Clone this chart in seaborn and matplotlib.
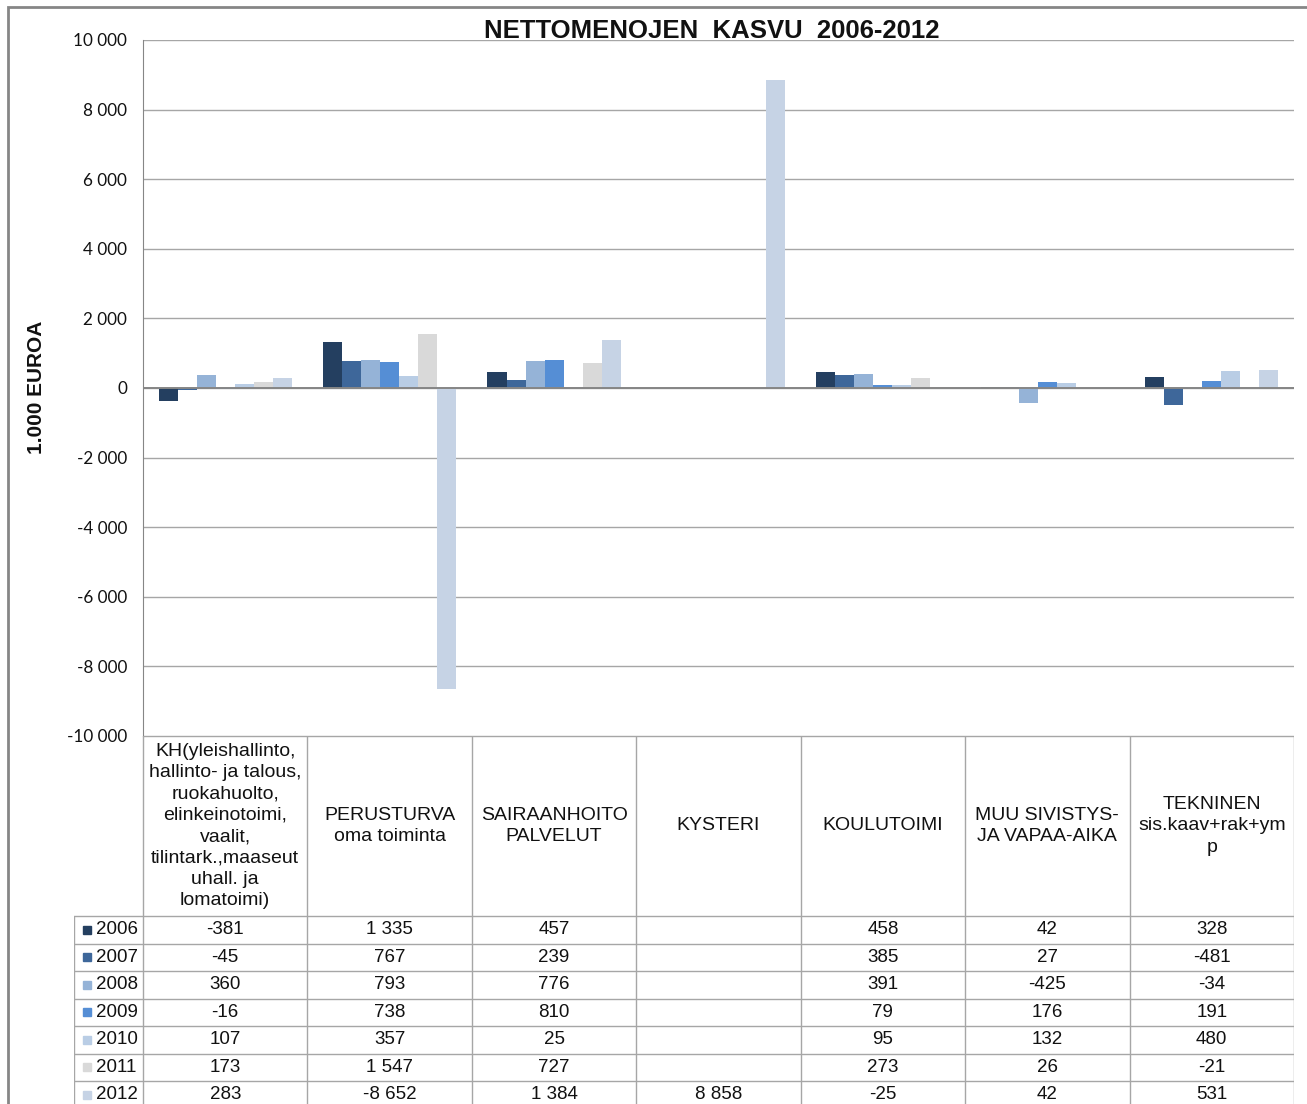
import pandas as pd
import matplotlib.pyplot as plt
import seaborn as sns
from matplotlib.patches import Rectangle
from matplotlib.ticker import FuncFormatter

# --- Data (1.000 euroa) ---
categories = [
    "KH(yleishallinto,\nhallinto- ja talous,\nruokahuolto,\nelinkeinotoimi,\nvaalit,\ntilintark.,maaseut\nuhall. ja\nlomatoimi)",
    "PERUSTURVA\noma toiminta",
    "SAIRAANHOITO\nPALVELUT",
    "KYSTERI",
    "KOULUTOIMI",
    "MUU SIVISTYS-\nJA VAPAA-AIKA",
    "TEKNINEN\nsis.kaav+rak+ym\np",
]
years = ["2006", "2007", "2008", "2009", "2010", "2011", "2012"]
v2006 = [-381, 1335, 457, None, 458, 42, 328]
v2007 = [-45, 767, 239, None, 385, 27, -481]
v2008 = [360, 793, 776, None, 391, -425, -34]
v2009 = [-16, 738, 810, None, 79, 176, 191]
v2010 = [107, 357, 25, None, 95, 132, 480]
v2011 = [173, 1547, 727, None, 273, 26, -21]
v2012 = [283, -8652, 1384, 8858, -25, 42, 531]
series = [v2006, v2007, v2008, v2009, v2010, v2011, v2012]
colors = ["#243F60", "#3E679A", "#95B3D7", "#558ED5", "#B9CDE5", "#D9D9D9", "#C6D3E5"]
yticks = list(range(-10000, 10001, 2000))

rows = []
for year, vals in zip(years, series):
    for cat, v in zip(categories, vals):
        if v is not None:
            rows.append({"kategoria": cat, "vuosi": year, "arvo": v})
df = pd.DataFrame(rows)

def fmt(v):
    return f"{int(v):,}".replace(",", " ")

sns.set_style("white")
plt.rcParams["font.family"] = ["Liberation Sans", "DejaVu Sans"]

W, H = 1307, 1104
fig = plt.figure(figsize=(W / 100, H / 100), dpi=100)

# chart area frame
fig.patches.append(Rectangle((8 / W, -0.2), 1.5, 1.2 - 7 / H, transform=fig.transFigure,
                             fill=False, edgecolor="#868686", lw=2))

ax = fig.add_axes([143 / W, 1 - 736 / H, (1294 - 143) / W, (736 - 40) / H])
sns.barplot(data=df, x="kategoria", y="arvo", hue="vuosi", order=categories, hue_order=years,
            palette=colors, width=0.81, saturation=1, linewidth=0, errorbar=None,
            legend=False, ax=ax)
ax.set_xlim(-0.5, len(categories) - 0.5)
ax.set_ylim(-10000, 10000)
ax.set_yticks(yticks)
ax.yaxis.set_major_formatter(FuncFormatter(lambda v, p: fmt(v)))
ax.yaxis.grid(True, color="#A6A6A6", lw=1)
ax.set_axisbelow(True)
ax.axhline(0, color="#868686", lw=1.4)
ax.set_xticks([])
ax.set_xlabel("")
ax.set_ylabel("")
for s in ["top", "right", "bottom"]:
    ax.spines[s].set_visible(False)
ax.spines["left"].set_color("#868686")
ax.tick_params(axis="y", direction="in", length=6, color="#868686", pad=11.5,
               labelsize=12.3, labelcolor="#111111")
for lab in ax.get_yticklabels():
    lab.set_fontfamily("Lato")

fig.text(712 / W, 1 - 31 / H, "NETTOMENOJEN  KASVU  2006-2012", ha="center", va="center",
         fontsize=18.5, fontweight="bold", color="#111111")
fig.text(37 / W, 1 - 387 / H, "1.000 EUROA", rotation=90, ha="center", va="center",
         fontsize=15, fontweight="bold", color="#111111")

# --- data table ---
cw = (1294 - 143) / len(categories)
xleg = -0.5 - (143 - 74) / cw
header = 180 / 27.5
top = len(years) + header
tx = fig.add_axes([74 / W, 1 - 1108.5 / H, (1294 - 74) / W, 372.5 / H])
tx.set_xlim(xleg, len(categories) - 0.5)
tx.set_ylim(0, top)
tx.axis("off")
lc = "#A6A6A6"
for k in range(len(categories) + 1):
    tx.plot([k - 0.5, k - 0.5], [0, top], color=lc, lw=1)
tx.plot([xleg, xleg], [0, len(years)], color=lc, lw=1)
for r in range(len(years) + 1):
    tx.plot([xleg, len(categories) - 0.5], [r, r], color=lc, lw=1)
tx.plot([-0.5, len(categories) - 0.5], [top, top], color=lc, lw=1)

for j, cat in enumerate(categories):
    tx.text(j, len(years) + header / 2, cat, ha="center", va="center", fontsize=14,
            color="#111111", linespacing=1.33)
for i, (year, vals) in enumerate(zip(years, series)):
    y = len(years) - i - 0.5
    tx.plot(xleg + 13 / cw, y, marker="s", markersize=6, color=colors[i], lw=0)
    tx.text(xleg + 22 / cw, y, year, ha="left", va="center", fontsize=13.5, color="#111111")
    for j, v in enumerate(vals):
        if v is not None:
            tx.text(j, y, fmt(v), ha="center", va="center", fontsize=13.5, color="#111111")

fig.savefig("out.png", dpi=100)
